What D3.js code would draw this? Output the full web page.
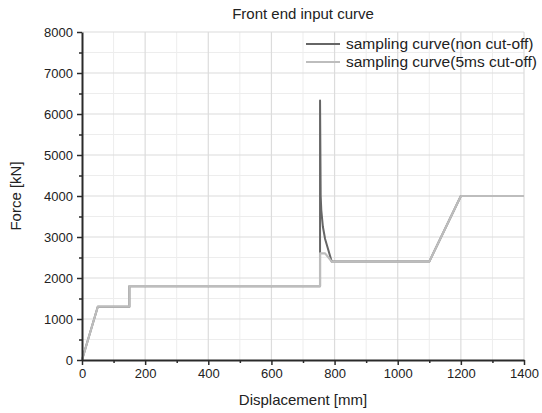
<!DOCTYPE html>
<html><head><meta charset="utf-8">
<script src="https://cdn.jsdelivr.net/npm/d3@7"></script>
<style>body{margin:0;background:#fff}svg{display:block;font-family:"Liberation Sans",Arial,sans-serif}</style>
</head><body><svg id="c" width="542" height="413"></svg>
<script>
// Data
const nonCutX = [0, 50, 150, 150, 754, 754, 756, 758, 763, 770, 791, 1100, 1200, 1400];
const nonCutY = [0, 1300, 1300, 1800, 1800, 6330, 4000, 3650, 3250, 2950, 2400, 2400, 4000, 4000];
const cutX = [0, 50, 150, 150, 754, 754, 770, 791, 1100, 1200, 1400];
const cutY = [0, 1300, 1300, 1800, 1800, 2600, 2600, 2400, 2400, 4000, 4000];
const xTicks = [0, 200, 400, 600, 800, 1000, 1200, 1400];
const yTicks = [0, 1000, 2000, 3000, 4000, 5000, 6000, 7000, 8000];
const seriesNames = ["sampling curve(non cut-off)", "sampling curve(5ms cut-off)"];
const seriesColors = ["#666666", "#bdbdbd"];

const svg = d3.select("#c");
const L = 82, R = 524, T = 32, B = 360;
const x = d3.scaleLinear().domain([0, 1400]).range([L, R]);
const y = d3.scaleLinear().domain([0, 8000]).range([B, T]);

// minor grid
const g = svg.append("g");
g.selectAll(".mx").data(d3.range(100, 1400, 200)).join("line")
  .attr("x1", d => x(d)).attr("x2", d => x(d)).attr("y1", T).attr("y2", B)
  .attr("stroke", "#ededed").attr("stroke-width", 1);
g.selectAll(".my").data(d3.range(500, 8000, 1000)).join("line")
  .attr("y1", d => y(d)).attr("y2", d => y(d)).attr("x1", L).attr("x2", R)
  .attr("stroke", "#ededed").attr("stroke-width", 1);
// major grid
g.selectAll(".gx").data(xTicks.slice(1)).join("line")
  .attr("x1", d => x(d)).attr("x2", d => x(d)).attr("y1", T).attr("y2", B)
  .attr("stroke", "#dcdcdc").attr("stroke-width", 1.2);
g.selectAll(".gy").data(yTicks.slice(1)).join("line")
  .attr("y1", d => y(d)).attr("y2", d => y(d)).attr("x1", L).attr("x2", R)
  .attr("stroke", "#dcdcdc").attr("stroke-width", 1.2);

// lines
const line = d3.line().x(d => x(d[0])).y(d => y(d[1]));
const nonCut = nonCutX.map((v, i) => [v, nonCutY[i]]);
const cut = cutX.map((v, i) => [v, cutY[i]]);
svg.append("path").datum(nonCut).attr("d", line).attr("fill", "none")
  .attr("stroke", seriesColors[0]).attr("stroke-width", 2).attr("stroke-linejoin", "round");
svg.append("path").datum(cut).attr("d", line).attr("fill", "none")
  .attr("stroke", seriesColors[1]).attr("stroke-width", 2.2).attr("stroke-linejoin", "round");

// axes
const fmt = d3.format("d");
const xAxis = svg.append("g").attr("transform", `translate(0,${B})`)
  .call(d3.axisBottom(x).tickValues(xTicks).tickFormat(fmt).tickSize(5).tickSizeOuter(0).tickPadding(4));
const xMinor = svg.append("g").attr("transform", `translate(0,${B})`)
  .call(d3.axisBottom(x).tickValues(d3.range(100, 1400, 200)).tickSize(3).tickFormat(""));
xMinor.select(".domain").remove();
const yAxis = svg.append("g").attr("transform", `translate(${L},0)`)
  .call(d3.axisLeft(y).tickValues(yTicks).tickFormat(fmt).tickSize(5).tickSizeOuter(0).tickPadding(4));
const yMinor = svg.append("g").attr("transform", `translate(${L},0)`)
  .call(d3.axisLeft(y).tickValues(d3.range(500, 8000, 1000)).tickSize(3).tickFormat(""));
yMinor.select(".domain").remove();
svg.selectAll(".domain").attr("stroke", "#2a2a2a").attr("stroke-width", 2);
svg.selectAll(".tick line").attr("stroke", "#2a2a2a").attr("stroke-width", 1.5);
svg.selectAll(".tick text").attr("font-size", 13).attr("fill", "#222")
  .attr("font-family", "Liberation Sans, Arial, sans-serif");

// title and labels
svg.append("text").attr("x", (L + R) / 2).attr("y", 19).attr("text-anchor", "middle")
  .attr("font-size", 15).attr("fill", "#222").text("Front end input curve");
svg.append("text").attr("x", (L + R) / 2).attr("y", 405).attr("text-anchor", "middle")
  .attr("font-size", 15).attr("fill", "#222").text("Displacement [mm]");
svg.append("text").attr("transform", `translate(21,${(T + B) / 2}) rotate(-90)`)
  .attr("text-anchor", "middle").attr("font-size", 15).attr("fill", "#222").text("Force [kN]");

// legend
const leg = svg.append("g");
seriesNames.forEach((n, i) => {
  const yy = 44 + i * 18;
  leg.append("line").attr("x1", 306).attr("x2", 340).attr("y1", yy).attr("y2", yy)
    .attr("stroke", seriesColors[i]).attr("stroke-width", 2);
  leg.append("text").attr("x", 346).attr("y", yy + 5).attr("font-size", 15.5)
    .attr("fill", "#222").text(n);
});
</script></body></html>
